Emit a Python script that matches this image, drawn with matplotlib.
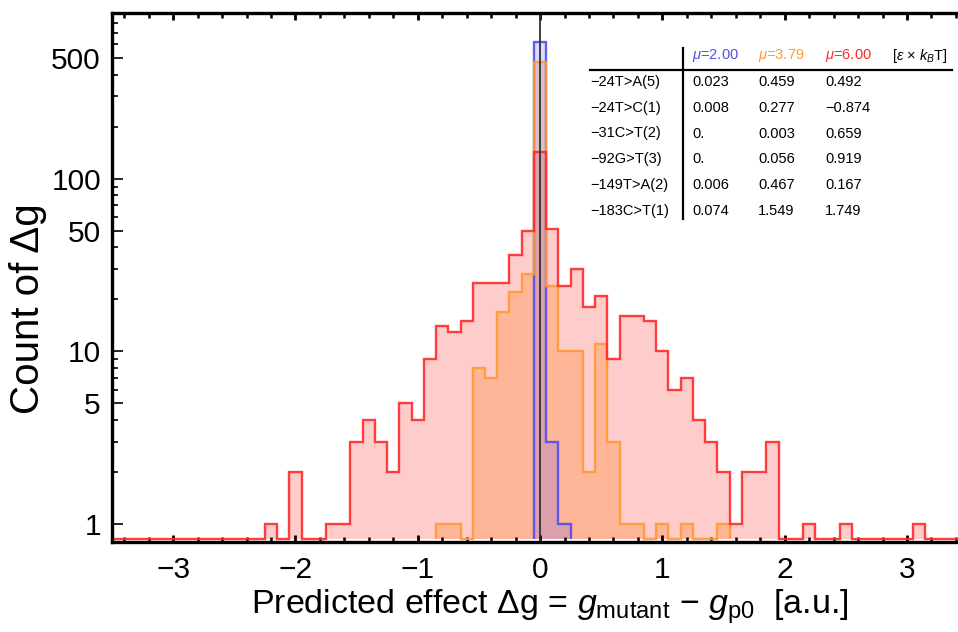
import numpy as np
import matplotlib
matplotlib.use("Agg")
import matplotlib.pyplot as plt
from matplotlib.ticker import FixedLocator, MultipleLocator, NullFormatter
from matplotlib.lines import Line2D

plt.rcParams['font.family'] = ['Liberation Sans', 'DejaVu Sans']
plt.rcParams['mathtext.fontset'] = 'custom'
plt.rcParams['mathtext.rm'] = 'Liberation Sans'
plt.rcParams['mathtext.it'] = 'Liberation Sans:italic'
plt.rcParams['mathtext.bf'] = 'Liberation Sans:bold'

# ---------------- data (histogram counts per bin of width 0.1, by bin centre) -------------
red_centers = [-2.2, -2.0, -1.7, -1.6, -1.5, -1.4, -1.3, -1.2, -1.1, -1.0, -0.9, -0.8, -0.7,
               -0.6, -0.5, -0.4, -0.3, -0.2, -0.1, 0.0, 0.1, 0.2, 0.3, 0.4, 0.5, 0.6, 0.7,
               0.8, 0.9, 1.0, 1.1, 1.2, 1.3, 1.4, 1.5, 1.6, 1.7, 1.8, 1.9, 2.2, 2.5, 3.1]
red_counts = [1, 2, 1, 1, 3, 4, 3, 2, 5, 4, 9, 14, 13,
              15, 25, 25, 25, 36, 50, 143, 51, 24, 30, 18, 21, 9, 16,
              16, 15, 10, 6, 7, 4, 3, 2, 1, 2, 2, 3, 1, 1, 1]

orange_centers = [-0.8, -0.7, -0.5, -0.4, -0.3, -0.2, -0.1, 0.0, 0.1, 0.2, 0.3, 0.4, 0.5,
                  0.6, 0.7, 0.8, 1.0, 1.2, 1.5]
orange_counts = [1, 1, 8, 7, 17, 22, 28, 475, 24, 10, 10, 2, 11,
                 3, 1, 1, 1, 1, 1]

blue_centers = [0.0, 0.1, 0.2]
blue_counts = [620, 3, 1]

bin_width = 0.1
x_ticks = [-3, -2, -1, 0, 1, 2, 3]
y_ticks = [1, 5, 10, 50, 100, 500]
y_tick_labels = ['1', '5', '10', '50', '100', '500']

table_rows = ['\u221224T>A(5)', '\u221224T>C(1)', '\u221231C>T(2)', '\u221292G>T(3)',
              '\u2212149T>A(2)', '\u2212183C>T(1)']
table_mu200 = ['0.023', '0.008', '0.', '0.', '0.006', '0.074']
table_mu379 = ['0.459', '0.277', '0.003', '0.056', '0.467', '1.549']
table_mu600 = ['0.492', '\u22120.874', '0.659', '0.919', '0.167', '1.749']
table_headers = [r'$\mu$=2.00', r'$\mu$=3.79', r'$\mu$=6.00', r'[$\varepsilon$ $\times$ $k_B$T]']

# ---------------- figure ----------------
W, H = 958, 632
fig = plt.figure(figsize=(W / 100, H / 100), dpi=100)
ax_l, ax_r, ax_t, ax_b = 112, 962, 13, 541.7
ax = fig.add_axes([ax_l / W, 1 - ax_b / H, (ax_r - ax_l) / W, (ax_b - ax_t) / H])
ax.set_yscale('log')
ax.set_xlim(-3.5, 3.45)
ax.set_ylim(0.79, 912)

baseline = 0.82
full_edges = np.arange(-3.55, 3.56, bin_width)

red_c = '#FF2A2A'
orange_c = '#FF9A33'
blue_c = '#4F4FE8'

series = [
    (red_centers, red_counts, (1.0, 0.0, 0.0, 0.20), red_c, True),
    (orange_centers, orange_counts, (1.0, 0.45, 0.0, 0.25), orange_c, False),
    (blue_centers, blue_counts, (0.30, 0.30, 1.0, 0.20), blue_c, False),
]
drawn = []
for cen, cnt, fc, ec, full in series:
    if full:
        edges = full_edges
    else:
        lo = min(cen) - bin_width / 2
        hi = max(cen) + bin_width / 2
        edges = full_edges[(full_edges > lo - 1e-6) & (full_edges < hi + 1e-6)]
    h, _ = np.histogram(cen, bins=edges, weights=cnt)
    h = np.where(h > 0, h, baseline)
    drawn.append((edges, h, ec))
    ax.stairs(h, edges, baseline=baseline, fill=True, color=fc, lw=0, zorder=1)

for edges, h, ec in drawn[::-1]:
    ax.stairs(h, edges, baseline=baseline, fill=False, color=ec, lw=1.7, alpha=0.9, zorder=2)

ax.axvline(0, color='#333333', lw=1.3, zorder=4)

# axes styling
for s in ['top', 'left', 'bottom']:
    ax.spines[s].set_linewidth(2.4)
    ax.spines[s].set_zorder(6)
ax.spines['right'].set_visible(False)

ax.xaxis.set_major_locator(FixedLocator(x_ticks))
ax.xaxis.set_minor_locator(MultipleLocator(0.2))
ax.yaxis.set_major_locator(FixedLocator(y_ticks))
ax.yaxis.set_major_formatter(plt.FixedFormatter(y_tick_labels))
minor_y = [m * d for d in (1, 10, 100) for m in (2, 3, 4, 6, 7, 8, 9) if m * d < 912]
ax.yaxis.set_minor_locator(FixedLocator(minor_y))
ax.yaxis.set_minor_formatter(NullFormatter())

ax.tick_params(axis='x', which='major', direction='in', length=5, width=2, top=True,
               labelsize=21.5, pad=10)
ax.tick_params(axis='x', which='minor', direction='in', length=3.5, width=1.8, top=True)
ax.tick_params(axis='y', which='major', direction='in', length=8, width=1.2, right=False,
               labelsize=21.5, pad=8)
ax.tick_params(axis='y', which='minor', direction='in', length=4, width=1.2, right=False)


def fx(px):
    return px / W


def fy(py):
    return 1 - py / H


# axis labels
fig.text(fx(550), fy(607), 'Predicted effect \u0394g = $g_{\\mathrm{mutant}}$ \u2212 $g_{\\mathrm{p0}}$  [a.u.]',
         fontsize=24.5, ha='center', va='center')
fig.text(fx(28), fy(309), 'Count of \u0394g', fontsize=29, rotation=90,
         ha='center', va='center')

# ---------------- table ----------------
tfs = 10.5
header_x = [692, 758, 825, 892]
header_cols = [blue_c, orange_c, red_c, 'black']
for txt, x, c in zip(table_headers, header_x, header_cols):
    fig.text(fx(x), fy(56), txt, color=c, fontsize=tfs, ha='left', va='center')

row_y = [82.3, 108.0, 133.5, 159.3, 185.0, 210.7]
for i, y in enumerate(row_y):
    fig.text(fx(590), fy(y), table_rows[i], fontsize=tfs, ha='left', va='center')
    fig.text(fx(692), fy(y), table_mu200[i], fontsize=tfs, ha='left', va='center')
    fig.text(fx(758), fy(y), table_mu379[i], fontsize=tfs, ha='left', va='center')
    fig.text(fx(825), fy(y), table_mu600[i], fontsize=tfs, ha='left', va='center')

fig.add_artist(Line2D([fx(590), fx(952)], [fy(70), fy(70)], transform=fig.transFigure,
                      color='black', lw=1.6))
fig.add_artist(Line2D([fx(683), fx(683)], [fy(48), fy(219)], transform=fig.transFigure,
                      color='black', lw=1.6))

fig.savefig('out.png', dpi=100)
